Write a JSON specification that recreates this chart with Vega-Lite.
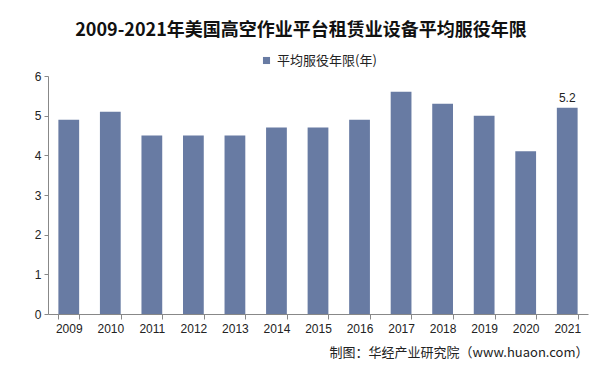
{
  "$schema": "https://vega.github.io/schema/vega-lite/v6.json",
  "width": 540,
  "height": 238,
  "autosize": {"type": "none"},
  "padding": {"left": 48, "top": 76, "right": 19, "bottom": 65},
  "background": "white",
  "title": {
    "text": "2009-2021年美国高空作业平台租赁业设备平均服役年限",
    "font": "Noto Sans CJK SC",
    "fontSize": 18,
    "fontWeight": "bold",
    "color": "#111111",
    "anchor": "middle",
    "dx": -17,
    "offset": 14
  },
  "data": {
    "values": [
      {"year": "2009", "value": 4.9, "series": "平均服役年限(年)"},
      {"year": "2010", "value": 5.1, "series": "平均服役年限(年)"},
      {"year": "2011", "value": 4.5, "series": "平均服役年限(年)"},
      {"year": "2012", "value": 4.5, "series": "平均服役年限(年)"},
      {"year": "2013", "value": 4.5, "series": "平均服役年限(年)"},
      {"year": "2014", "value": 4.7, "series": "平均服役年限(年)"},
      {"year": "2015", "value": 4.7, "series": "平均服役年限(年)"},
      {"year": "2016", "value": 4.9, "series": "平均服役年限(年)"},
      {"year": "2017", "value": 5.6, "series": "平均服役年限(年)"},
      {"year": "2018", "value": 5.3, "series": "平均服役年限(年)"},
      {"year": "2019", "value": 5.0, "series": "平均服役年限(年)"},
      {"year": "2020", "value": 4.1, "series": "平均服役年限(年)"},
      {"year": "2021", "value": 5.2, "series": "平均服役年限(年)"}
    ]
  },
  "encoding": {
    "x": {
      "field": "year",
      "type": "nominal",
      "sort": null,
      "scale": {"paddingInner": 0.5, "paddingOuter": 0.25},
      "axis": {
        "title": "制图：华经产业研究院（www.huaon.com）",
        "titleAnchor": "end",
        "titleAlign": "right",
        "titleFont": "Noto Sans CJK SC",
        "titleFontSize": 13,
        "titleFontWeight": "normal",
        "titleColor": "#222222",
        "titlePadding": 12,
        "labelAngle": 0,
        "labelFont": "Liberation Sans",
        "labelFontSize": 12,
        "labelColor": "#222222",
        "labelPadding": 4,
        "tickBand": "extent",
        "tickSize": 5,
        "tickColor": "#888888",
        "domainColor": "#888888"
      }
    },
    "y": {
      "field": "value",
      "type": "quantitative",
      "scale": {"domain": [0, 6]},
      "axis": {
        "title": null,
        "values": [0, 1, 2, 3, 4, 5, 6],
        "grid": false,
        "labelFont": "Liberation Sans",
        "labelFontSize": 12,
        "labelColor": "#222222",
        "labelPadding": 3,
        "tickSize": 4,
        "tickColor": "#888888",
        "domainColor": "#888888"
      }
    }
  },
  "layer": [
    {
      "mark": {"type": "bar"},
      "encoding": {
        "color": {
          "field": "series",
          "type": "nominal",
          "scale": {"range": ["#687ba3"]},
          "legend": {
            "title": null,
            "orient": "top",
            "direction": "horizontal",
            "symbolType": "square",
            "symbolSize": 50,
            "labelFont": "Noto Sans CJK SC",
            "labelFontSize": 13,
            "labelColor": "#222222",
            "offset": 8
          }
        }
      }
    },
    {
      "transform": [{"filter": "datum.year == '2021'"}],
      "mark": {"type": "text", "dy": -10, "font": "Liberation Sans", "fontSize": 12, "color": "#222222"},
      "encoding": {
        "text": {"field": "value", "type": "quantitative", "format": ".1f"}
      }
    }
  ],
  "config": {
    "view": {"stroke": null},
    "legend": {"layout": {"top": {"anchor": "middle"}}}
  }
}
